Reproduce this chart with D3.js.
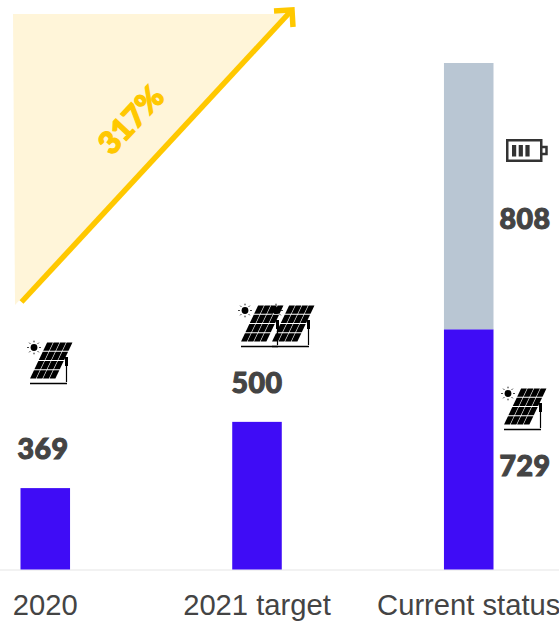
<!doctype html>
<html>
    <head>
        <meta charset="utf-8">
        <script src="https://cdn.jsdelivr.net/npm/d3@7/dist/d3.min.js"></script>
        <style type="text/css">
            html, body { margin:0; padding:0; background:#fff; }
            svg { display:block; }
            .tick text { font-family:"Liberation Sans",Arial,sans-serif; font-size:29.2px; fill:#444; }
            .value { font-family:Lato,sans-serif; font-weight:900; font-size:28.5px; letter-spacing:0.5px; fill:#444; stroke:#444; stroke-width:1.1px; text-anchor:middle; }
        </style>
    </head>
    <body>
        <script>
            var categories = ["2020", "2021 target", "Current status"];
            //bar heights are read off the picture, they are not in proportion to the printed labels
            var solarHeights = [247, 448, 729];
            var batteryHeights = [0, 0, 808];
            var valueLabels = ["369", "500", "729", "808"];
            var growthLabel = "317%";

            var width = 559, height = 623;
            var baseline = 569.5;

            var svg = d3.select("body").append("svg").attr("width", width).attr("height", height);

            var x = d3.scaleBand().domain(categories).range([20.5, 493.5]).paddingInner(0.766).paddingOuter(0);
            var y = d3.scaleLinear().domain([0, 1537]).range([baseline, 63]);

            //reusable panel icon, origin is the top left of the icon
            var defs = svg.append("defs");
            var panel = defs.append("g").attr("id", "panelIcon");
            var rows = 4, cols = 4;
            var tl = [21, 4], tr = [47, 4], bl = [3.5, 41];
            d3.range(rows).forEach(function(r) {
                d3.range(cols).forEach(function(c) {
                    var gap = 0.05;
                    function pt(u, v) {
                        //u across the panel, v down the slope
                        var a = (c + gap + u * (1 - 2 * gap)) / cols;
                        var b = (r + gap + v * (1 - 2 * gap)) / rows;
                        return [tl[0] + a * (tr[0] - tl[0]) + b * (bl[0] - tl[0]), tl[1] + b * (bl[1] - tl[1])];
                    }
                    panel.append("path")
                        .attr("d", "M" + [pt(0, 0), pt(1, 0), pt(1, 1), pt(0, 1)].join("L") + "Z")
                        .attr("fill", "#000");
                });
            });
            panel.append("circle").attr("cx", 8).attr("cy", 9.5).attr("r", 3.4).attr("fill", "#000");
            d3.range(8).forEach(function(i) {
                var a = i * Math.PI / 4;
                panel.append("line")
                    .attr("x1", 8 + 5.2 * Math.cos(a)).attr("y1", 9.5 + 5.2 * Math.sin(a))
                    .attr("x2", 8 + 6.8 * Math.cos(a)).attr("y2", 9.5 + 6.8 * Math.sin(a))
                    .attr("stroke", "#000").attr("stroke-width", 0.9);
            });
            panel.append("path").attr("d", "M40.5,20V44").attr("stroke", "#000").attr("stroke-width", 1.2).attr("fill", "none");
            panel.append("path").attr("d", "M39,19h3v9h-3z").attr("fill", "#000");
            panel.append("path").attr("d", "M4,45.5H41").attr("stroke", "#000").attr("stroke-width", 1.4).attr("fill", "none");

            //growth triangle and arrow
            svg.append("path").attr("d", "M13,14L287,14L15,305Z").attr("fill", "#fff5d9");
            svg.append("path").attr("d", "M21.5,302L291,11").attr("stroke", "#ffc800").attr("stroke-width", 5.5).attr("fill", "none");
            svg.append("path").attr("d", "M274,11L292,10L293,27").attr("stroke", "#ffc800").attr("stroke-width", 5.5).attr("fill", "none");
            svg.append("text")
                .attr("transform", "translate(131,120) rotate(-47)")
                .attr("text-anchor", "middle")
                .attr("dy", "0.35em")
                .style("font-family", "Lato,sans-serif").style("font-weight", 900).style("font-size", "31px")
                .attr("fill", "#ffc800")
                .attr("stroke", "#ffc800")
                .attr("stroke-width", 1.3)
                .text(growthLabel);

            //axis
            var axis = svg.append("g").attr("transform", "translate(0," + baseline + ")")
                .call(d3.axisBottom(x).tickSize(0).tickPadding(25));
            axis.select(".domain").remove();
            svg.append("line").attr("x1", 0).attr("x2", width).attr("y1", baseline + 0.5).attr("y2", baseline + 0.5)
                .attr("stroke", "#eeeeee").attr("stroke-width", 1.5);

            //bars
            svg.selectAll("rect.solar").data(categories).enter().append("rect")
                .attr("class", "solar")
                .attr("x", function(d) { return x(d); })
                .attr("width", x.bandwidth())
                .attr("y", function(d, i) { return y(solarHeights[i]); })
                .attr("height", function(d, i) { return baseline - y(solarHeights[i]); })
                .attr("fill", "#3f0cf6");
            svg.selectAll("rect.battery").data(categories).enter().append("rect")
                .attr("class", "battery")
                .attr("x", function(d) { return x(d); })
                .attr("width", x.bandwidth())
                .attr("y", function(d, i) { return y(solarHeights[i] + batteryHeights[i]); })
                .attr("height", function(d, i) { return y(solarHeights[i]) - y(solarHeights[i] + batteryHeights[i]); })
                .attr("fill", "#b9c6d3");

            //value labels
            var labelX = [43, 257, 525, 525];
            var labelY = [459, 393, 476, 229];
            svg.selectAll("text.value").data(valueLabels).enter().append("text")
                .attr("class", "value")
                .attr("x", function(d, i) { return labelX[i]; })
                .attr("y", function(d, i) { return labelY[i]; })
                .text(function(d) { return d; });

            //icons
            var iconPos = [[26, 338], [237, 301], [268, 301], [500, 384]];
            svg.selectAll("use").data(iconPos).enter().append("use")
                .attr("href", "#panelIcon")
                .attr("x", function(d) { return d[0]; })
                .attr("y", function(d) { return d[1]; });

            //battery icon
            var batt = svg.append("g").attr("transform", "translate(506,139)");
            batt.append("rect").attr("x", 1.25).attr("y", 1.25).attr("width", 34).attr("height", 20.5)
                .attr("fill", "none").attr("stroke", "#333").attr("stroke-width", 2.5);
            batt.append("path").attr("d", "M36,8h4.5v7h-4.5").attr("fill", "none").attr("stroke", "#333").attr("stroke-width", 2.5);
            d3.range(3).forEach(function(i) {
                batt.append("rect").attr("x", 6 + i * 6.7).attr("y", 6).attr("width", 4.2).attr("height", 11.5).attr("fill", "#333");
            });
        </script>
    </body>
</html>
